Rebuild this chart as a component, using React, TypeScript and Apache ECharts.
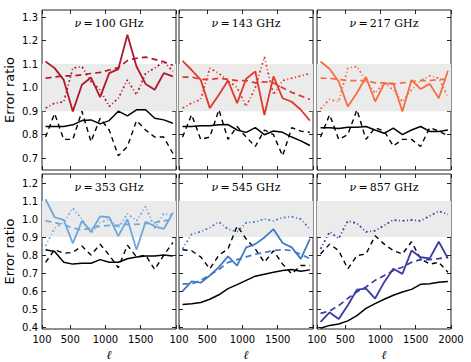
import React, { useEffect, useRef } from "react";
import * as echarts from "echarts";

// multipole bin centres
const ell = [150, 279, 408, 537, 666, 795, 924, 1053, 1182, 1311, 1440, 1569, 1698, 1827, 1956];

const panelTitles = ["100", "143", "217", "353", "545", "857"];
const panelColors = ["#b2182b", "#e0382c", "#f46d43", "#6fa8dc", "#4479c4", "#3a3c9e"];

const xTicks = [100, 500, 1000, 1500, 2000];
const xLabelsInner = [100, 500, 1000, 1500];
const xLabelsLast = [100, 500, 1000, 1500, 2000];
const yTicksTop = [0.7, 0.8, 0.9, 1.0, 1.1, 1.2, 1.3];
const yTicksBottom = [0.4, 0.5, 0.6, 0.7, 0.8, 0.9, 1.0, 1.1, 1.2];

// 100 GHz
const solid100 = [1.111, 1.083, 1.033, 0.899, 1.012, 1.043, 0.96, 1.062, 1.079, 1.225, 1.09, 1.016, 0.991, 1.062, 1.048];
const dashed100 = [1.04, 1.045, 1.05, 1.05, 1.055, 1.06, 1.065, 1.075, 1.085, 1.115, 1.125, 1.13, 1.12, 1.11, 1.095];
const dotted100 = [0.913, 0.934, 0.94, 1.083, 1.09, 1.026, 0.99, 0.92, 0.955, 1.033, 0.97, 1.06, 1.083, 1.111, 1.069];
const black100 = [0.835, 0.835, 0.835, 0.842, 0.86, 0.863, 0.846, 0.86, 0.9, 0.88, 0.906, 0.906, 0.87, 0.863, 0.849];
const blackDash100 = [0.79, 0.89, 0.78, 0.78, 0.9, 0.77, 0.87, 0.82, 0.71, 0.75, 0.86, 0.82, 0.79, 0.79, 0.72];

// 143 GHz
const solid143 = [1.114, 1.075, 1.033, 0.913, 0.97, 1.03, 0.934, 1.038, 1.069, 0.884, 1.048, 0.955, 0.94, 0.906, 0.86];
const dashed143 = [1.045, 1.045, 1.035, 1.035, 1.04, 1.035, 1.03, 1.03, 1.02, 1.025, 1.02, 1.0, 0.98, 0.965, 0.95];
const dotted143 = [0.913, 0.934, 0.95, 1.083, 1.06, 1.03, 1.0, 0.92, 1.0, 1.13, 0.97, 1.03, 1.04, 1.05, 1.06];
const black143 = [0.835, 0.835, 0.838, 0.838, 0.842, 0.843, 0.82, 0.81, 0.83, 0.8, 0.816, 0.81, 0.79, 0.774, 0.754];
const blackDash143 = [0.79, 0.885, 0.78, 0.79, 0.906, 0.78, 0.835, 0.79, 0.75, 0.82, 0.8, 0.71, 0.83, 0.815, 0.81];

// 217 GHz
const solid217 = [1.111, 1.079, 1.026, 0.92, 0.977, 1.045, 0.941, 1.016, 1.019, 0.899, 1.033, 0.994, 1.016, 0.955, 1.072];
const dashed217 = [1.04, 1.04, 1.035, 1.03, 1.03, 1.03, 1.02, 1.02, 1.015, 1.02, 1.025, 1.03, 1.03, 1.035, 1.035];
const dotted217 = [0.91, 0.95, 0.94, 1.083, 1.09, 1.03, 0.977, 1.02, 0.99, 0.94, 0.99, 1.03, 1.05, 1.04, 0.96];
const black217 = [0.83, 0.83, 0.826, 0.832, 0.832, 0.835, 0.82, 0.806, 0.828, 0.8, 0.82, 0.835, 0.814, 0.814, 0.82];
const blackDash217 = [0.79, 0.885, 0.78, 0.8, 0.906, 0.78, 0.83, 0.815, 0.752, 0.78, 0.78, 0.75, 0.83, 0.815, 0.795];

// 353 GHz
const solid353 = [1.11, 1.01, 0.995, 0.865, 0.99, 0.93, 1.015, 1.01, 0.905, 1.0, 0.83, 0.985, 0.96, 0.945, 1.035];
const dashed353 = [0.99, 0.98, 0.97, 0.95, 0.94, 0.95, 0.96, 0.965, 0.965, 0.97, 0.97, 0.975, 0.98, 0.99, 1.0];
const dotted353 = [0.85, 0.95, 0.98, 1.06, 1.0, 0.92, 0.98, 1.0, 0.95, 1.03, 0.99, 1.07, 0.95, 1.03, 1.02];
const black353 = [0.83, 0.82, 0.76, 0.75, 0.755, 0.755, 0.775, 0.76, 0.76, 0.78, 0.79, 0.795, 0.795, 0.8, 0.795];
const blackDash353 = [0.76, 0.83, 0.81, 0.815, 0.85, 0.8, 0.86, 0.8, 0.73, 0.855, 0.79, 0.8, 0.72, 0.8, 0.87];

// 545 GHz
const solid545 = [0.6, 0.654, 0.647, 0.687, 0.733, 0.793, 0.742, 0.843, 0.861, 0.898, 0.944, 0.867, 0.843, 0.779, 0.889];
const dashed545 = [0.64, 0.64, 0.66, 0.69, 0.72, 0.76, 0.775, 0.79, 0.805, 0.815, 0.825, 0.83, 0.825, 0.805, 0.78];
const dotted545 = [0.834, 0.916, 0.93, 0.953, 0.984, 0.944, 0.93, 0.98, 0.984, 1.0, 0.99, 1.008, 1.013, 1.0, 0.944];
const black545 = [0.526, 0.53, 0.537, 0.555, 0.58, 0.614, 0.636, 0.66, 0.683, 0.694, 0.705, 0.715, 0.72, 0.71, 0.718];
const blackDash545 = [0.83, 0.824, 0.79, 0.724, 0.8, 0.834, 0.962, 0.889, 0.834, 0.76, 0.824, 0.75, 0.696, 0.742, 0.742];

// 857 GHz
const solid857 = [0.43, 0.482, 0.445, 0.522, 0.608, 0.614, 0.559, 0.65, 0.724, 0.696, 0.825, 0.788, 0.782, 0.874, 0.782];
const dashed857 = [0.477, 0.49, 0.52, 0.56, 0.596, 0.623, 0.66, 0.687, 0.715, 0.733, 0.76, 0.775, 0.775, 0.78, 0.788];
const dotted857 = [0.834, 0.929, 0.892, 0.99, 0.976, 0.929, 0.935, 0.965, 0.995, 0.99, 0.995, 0.99, 1.017, 1.044, 1.026];
const black857 = [0.394, 0.41, 0.418, 0.435, 0.464, 0.504, 0.531, 0.555, 0.577, 0.595, 0.61, 0.638, 0.641, 0.65, 0.654];
const blackDash857 = [0.806, 0.861, 0.825, 0.724, 0.797, 0.806, 0.907, 0.861, 0.825, 0.806, 0.874, 0.78, 0.75, 0.76, 0.705];

const panels = [
  { solid: solid100, dashed: dashed100, dotted: dotted100, black: black100, blackDash: blackDash100 },
  { solid: solid143, dashed: dashed143, dotted: dotted143, black: black143, blackDash: blackDash143 },
  { solid: solid217, dashed: dashed217, dotted: dotted217, black: black217, blackDash: blackDash217 },
  { solid: solid353, dashed: dashed353, dotted: dotted353, black: black353, blackDash: blackDash353 },
  { solid: solid545, dashed: dashed545, dotted: dotted545, black: black545, blackDash: blackDash545 },
  { solid: solid857, dashed: dashed857, dotted: dotted857, black: black857, blackDash: blackDash857 },
];

const colLeft = [42, 179, 317];
const panelW = 134;
const rowTop = [10, 174];
const rowH = [160, 158];
const yRange = [
  [0.65, 1.33],
  [0.39, 1.25],
];

export default function App() {
  const ref = useRef<HTMLDivElement>(null);
  useEffect(() => {
    const chart = echarts.init(ref.current!, null, { renderer: "svg" });
    const grid: any[] = [];
    const xAxis: any[] = [];
    const yAxis: any[] = [];
    const series: any[] = [];
    const graphic: any[] = [];
    const tickStyle = { color: "#222", width: 1 };
    const labelFont = { color: "#000", fontSize: 10, fontFamily: "DejaVu Sans" };

    panels.forEach((p, i) => {
      const row = Math.floor(i / 3);
      const col = i % 3;
      grid.push({
        left: colLeft[col],
        top: rowTop[row],
        width: panelW,
        height: rowH[row],
        show: true,
        borderColor: "#222",
        borderWidth: 1,
        backgroundColor: "transparent",
      });
      xAxis.push({
        gridIndex: i,
        type: "value",
        min: 100,
        max: 2000,
        position: "bottom",
        axisLine: { show: false },
        axisTick: { show: true, inside: true, length: 4, customValues: xTicks, lineStyle: tickStyle },
        axisLabel: {
          show: row === 1,
          customValues: col === 2 ? xLabelsLast : xLabelsInner,
          margin: 5,
          formatter: (v: number) => String(Math.round(v)),
          ...labelFont,
        },
        splitLine: { show: false },
        name: row === 1 ? "ℓ" : "",
        nameLocation: "middle",
        nameGap: 20,
        nameTextStyle: {
          fontFamily: "DejaVu Serif",
          fontStyle: "italic",
          fontWeight: "normal",
          fontSize: 12,
          color: "#000",
        },
      });
      xAxis.push({
        gridIndex: i,
        type: "value",
        min: 100,
        max: 2000,
        position: "top",
        axisLine: { show: false },
        axisTick: { show: true, inside: true, length: 4, customValues: xTicks, lineStyle: tickStyle },
        axisLabel: { show: false },
        splitLine: { show: false },
      });
      const yt = row === 0 ? yTicksTop : yTicksBottom;
      yAxis.push({
        gridIndex: i,
        type: "value",
        min: yRange[row][0],
        max: yRange[row][1],
        position: "left",
        axisLine: { show: false },
        axisTick: { show: true, inside: true, length: 4, customValues: yt, lineStyle: tickStyle },
        axisLabel: {
          show: col === 0,
          customValues: yt,
          margin: 4,
          formatter: (v: number) => v.toFixed(1),
          ...labelFont,
        },
        splitLine: { show: false },
        name: col === 0 ? "Error ratio" : "",
        nameLocation: "middle",
        nameGap: 26,
        nameTextStyle: { fontFamily: "DejaVu Sans", fontSize: 13, color: "#000" },
      });
      yAxis.push({
        gridIndex: i,
        type: "value",
        min: yRange[row][0],
        max: yRange[row][1],
        position: "right",
        axisLine: { show: false },
        axisTick: { show: true, inside: true, length: 4, customValues: yt, lineStyle: tickStyle },
        axisLabel: { show: false },
        splitLine: { show: false },
      });

      const xi = 2 * i;
      const yi = 2 * i;
      const color = panelColors[i];
      const mk = (arr: number[]) => ell.map((x, k) => [x, arr[k]]);
      const base = {
        type: "line",
        xAxisIndex: xi,
        yAxisIndex: yi,
        showSymbol: false,
        symbol: "none",
        silent: true,
        animation: false,
      };
      series.push({
        ...base,
        z: 1,
        data: mk(p.black),
        lineStyle: { color: "#000", width: 1.5 },
        markArea: {
          silent: true,
          itemStyle: { color: "#ebebeb" },
          data: [[{ yAxis: 0.9 }, { yAxis: 1.1 }]],
        },
      });
      series.push({ ...base, z: 3, data: mk(p.blackDash), lineStyle: { color: "#000", width: 1.4, type: [5, 4] } });
      series.push({ ...base, z: 3, data: mk(p.dotted), lineStyle: { color, width: 1.7, type: [2, 2.5, 1, 2.5] } });
      series.push({ ...base, z: 3, data: mk(p.dashed), lineStyle: { color, width: 1.7, type: [6, 4] } });
      series.push({ ...base, z: 4, data: mk(p.solid), lineStyle: { color, width: 1.8 } });

      graphic.push({
        type: "text",
        x: colLeft[col] + panelW / 2,
        y: rowTop[row] + 13,
        style: {
          text: "{i|ν}{n|\u2009=\u2009" + panelTitles[i] + " GHz}",
          textAlign: "center",
          textVerticalAlign: "middle",
          rich: {
            i: { fontFamily: "DejaVu Serif", fontStyle: "italic", fontSize: 11, fill: "#000" },
            n: { fontFamily: "DejaVu Serif", fontSize: 11, fill: "#000" },
          },
        },
        z: 10,
      });
    });

    chart.setOption({
      animation: false,
      backgroundColor: "#fff",
      grid,
      xAxis,
      yAxis,
      series,
      graphic,
    });
    return () => chart.dispose();
  }, []);
  return <div ref={ref} style={{ position: "absolute", left: 0, top: 0, width: 471, height: 362 }} />;
}
